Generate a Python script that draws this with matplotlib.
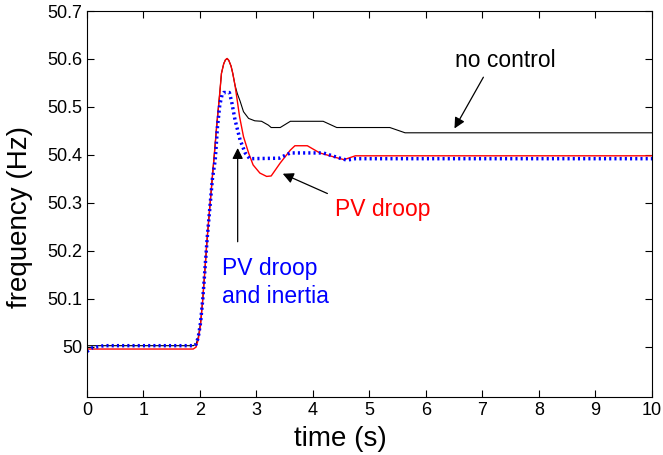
import numpy as np
import matplotlib.pyplot as plt
from matplotlib.ticker import FuncFormatter

plt.rcParams['font.family'] = ['Liberation Sans', 'DejaVu Sans']

# valores
t_noctrl = [0, 1.88, 1.93, 1.97, 2.01, 2.05, 2.13, 2.22, 2.25, 2.30, 2.35, 2.38, 2.42, 2.45, 2.48, 2.51, 2.55, 2.58, 2.62,
            2.66, 2.71, 2.77, 2.86, 2.97, 3.09, 3.21, 3.26, 3.42, 3.6, 4.18, 4.42, 5.36, 5.63, 10]
f_noctrl = [50.002, 50.002, 50.005, 50.02, 50.05, 50.1, 50.23, 50.355, 50.396, 50.466, 50.529, 50.57, 50.59, 50.598, 50.601, 50.597, 50.585, 50.57, 50.545,
            50.528, 50.512, 50.49, 50.476, 50.471, 50.47, 50.462, 50.457, 50.457, 50.47, 50.47, 50.457, 50.457, 50.446, 50.446]

t_droop = [0, 1.88, 1.93, 1.97, 2.01, 2.05, 2.13, 2.22, 2.25, 2.30, 2.35, 2.38, 2.42, 2.45, 2.48, 2.51, 2.55, 2.58, 2.62,
           2.66, 2.70, 2.77, 2.86, 2.94, 3.06, 3.18, 3.26, 3.42, 3.6, 3.68, 3.9, 4.12, 4.42, 4.55, 4.75, 10]
f_droop = [49.995, 49.995, 49.999, 50.015, 50.045, 50.1, 50.23, 50.355, 50.396, 50.466, 50.529, 50.57, 50.59, 50.598, 50.601, 50.597, 50.585, 50.57, 50.545,
           50.513, 50.48, 50.438, 50.404, 50.379, 50.362, 50.355, 50.356, 50.383, 50.41, 50.419, 50.419, 50.404, 50.394, 50.39, 50.398, 50.398]

t_inertia = [0, 0.1, 0.3, 1.88, 1.93, 1.97, 2.01, 2.05, 2.13, 2.22, 2.27, 2.31, 2.35, 2.39, 2.42, 2.52, 2.56, 2.62, 2.71, 2.80, 2.88,
             3.4, 3.6, 4.18, 4.45, 4.6, 4.75, 10]
f_inertia = [49.99, 49.998, 50.002, 50.002, 50.005, 50.02, 50.05, 50.1, 50.23, 50.35, 50.39, 50.459, 50.504, 50.525, 50.53, 50.53, 50.511, 50.473, 50.431, 50.404, 50.392,
             50.393, 50.404, 50.404, 50.394, 50.389, 50.392, 50.392]

xticks = np.arange(0, 11, 1)
yticks = [50, 50.1, 50.2, 50.3, 50.4, 50.5, 50.6, 50.7]

fig = plt.figure(figsize=(6.63, 4.55), dpi=100)
ax = fig.add_axes([0.1312, 0.1275, 0.8522, 0.8483])

ax.plot(t_noctrl, f_noctrl, color='black', lw=0.8)
ax.plot(t_droop, f_droop, color='red', lw=1.0)
ax.plot(t_inertia, f_inertia, color='blue', lw=2.5, linestyle=(0, (0.6, 0.9)))

ax.set_xlim(0, 10)
ax.set_ylim(49.895, 50.7)
ax.set_xticks(xticks)
ax.set_yticks(yticks)
ax.yaxis.set_major_formatter(FuncFormatter(lambda v, p: '%g' % round(v, 1)))
ax.tick_params(direction='in', top=True, right=True, labelsize=13, length=5, width=0.8)
for s in ax.spines.values():
    s.set_linewidth(0.8)

ax.set_xlabel('time (s)', fontsize=20, va='center')
ax.xaxis.set_label_coords(0.449, -0.110)
ax.set_ylabel('frequency (Hz)', fontsize=20, va='center')
ax.yaxis.set_label_coords(-0.118, 0.466)

arrow = dict(arrowstyle='-|>', color='black', lw=0.9, mutation_scale=16)
ax.text(7.4, 50.583, 'no control', fontsize=16.5, ha='center', va='baseline')
ax.annotate('', xy=(6.48, 50.45), xytext=(7.04, 50.567), arrowprops=arrow)
ax.text(4.39, 50.273, 'PV droop', fontsize=16.5, color='red', ha='left', va='baseline')
ax.annotate('', xy=(3.42, 50.363), xytext=(4.3, 50.317), arrowprops=arrow)
ax.text(2.39, 50.15, 'PV droop', fontsize=16.5, color='blue', ha='left', va='baseline')
ax.text(2.39, 50.092, 'and inertia', fontsize=16.5, color='blue', ha='left', va='baseline')
ax.annotate('', xy=(2.667, 50.42), xytext=(2.667, 50.213), arrowprops=arrow)

fig.savefig('out.png', dpi=100)
